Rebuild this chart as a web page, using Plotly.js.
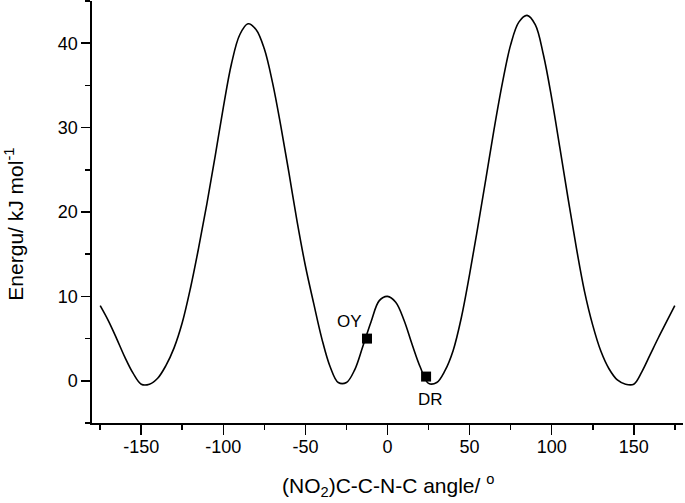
<!DOCTYPE html>
<html>
<head>
<meta charset="utf-8">
<script src="https://cdn.plot.ly/plotly-3.0.1.min.js"></script>
<style>html,body{margin:0;padding:0;background:#fff;}#chart{width:685px;height:503px;}</style>
</head>
<body>
<div id="chart"></div>
<script>
// Torsion angle (degrees) and relative energy (kJ/mol)
const angle = [-175,-170,-165,-160,-155,-150,-145,-140,-135,-130,-125,-120,-115,-110,-105,-100,-95,-90,-85,-80,-75,-70,-65,-60,-55,-50,-45,-40,-35,-30,-25,-20,-15,-10,-5,0,5,10,15,20,25,30,35,40,45,50,55,60,65,70,75,80,85,90,95,100,105,110,115,120,125,130,135,140,145,150,155,160,165,170,175];
const energy = [8.9,7.1,5.0,2.8,0.9,-0.4,-0.4,0.3,1.8,3.9,6.9,11.0,15.8,21.0,26.6,32.4,37.6,41.0,42.3,41.6,39.3,35.3,30.2,24.6,18.8,13.6,9.2,5.0,1.7,-0.2,-0.2,1.3,4.1,7.0,9.5,10.0,9.3,7.2,4.3,1.6,-0.3,-0.2,1.2,3.6,7.5,12.6,18.2,24.0,29.9,35.3,39.8,42.5,43.3,42.2,38.6,33.5,27.6,21.6,15.8,10.6,6.6,3.5,1.4,0.1,-0.4,-0.4,1.1,3.1,5.1,7.0,8.9];

// Labelled conformers
const confName = ["OY","DR"];
const confAngle = [-12.5, 23.5];
const confEnergy = [5.0, 0.5];
const labelAngle = [-23, 26];
const labelEnergy = [7.0, -2.2];

// Tick labels (hyphen minus as in the original)
const xTickVals = [-150,-100,-50,0,50,100,150];
const xTickText = ["-150","-100","-50","0","50","100","150"];
const yTickVals = [0,10,20,30,40];
const yTickText = ["0","10","20","30","40"];

// Axis titles
const xTitle = '(NO<sub>2</sub>)C-C-N-C angle/ <sup>o</sup>';
const yTitle = 'Energu/ kJ mol<sup>-1</sup>';

const curve = {
  x: angle, y: energy, type: 'scatter', mode: 'lines',
  line: {color: '#000', width: 1.6, shape: 'spline', smoothing: 1},
  hoverinfo: 'skip'
};
const pts = {
  x: confAngle, y: confEnergy, type: 'scatter', mode: 'markers',
  marker: {symbol: 'square', size: 10, color: '#000'},
  text: confName
};

const font = {family: 'Liberation Sans, Arial, sans-serif', color: '#000'};

const annos = confName.map((n, i) => ({
  x: labelAngle[i], y: labelEnergy[i], xref: 'x', yref: 'y',
  text: n, showarrow: false, font: Object.assign({size: 17}, font)
}));
annos.push({
  x: 0.5, y: -0.149, xref: 'paper', yref: 'paper', xanchor: 'center', yanchor: 'middle',
  text: xTitle, showarrow: false, font: Object.assign({size: 21}, font)
});
annos.push({
  x: 0, y: 0.47, xref: 'paper', yref: 'paper', xanchor: 'center', yanchor: 'middle',
  xshift: -78, textangle: -90,
  text: yTitle, showarrow: false, font: Object.assign({size: 21}, font)
});

const layout = {
  width: 685, height: 503,
  margin: {l: 92, r: 2, t: 1, b: 80},
  paper_bgcolor: '#fff', plot_bgcolor: '#fff',
  showlegend: false,
  font: Object.assign({size: 18}, font),
  xaxis: {
    range: [-180, 180], tickmode: 'array', tickvals: xTickVals, ticktext: xTickText,
    showgrid: false, zeroline: false,
    showline: true, linecolor: '#000', linewidth: 1.6,
    ticks: 'outside', ticklen: 10, tickwidth: 1.6, tickcolor: '#000',
    minor: {tickmode: 'linear', tick0: 0, dtick: 25, ticks: 'outside', ticklen: 5, tickwidth: 1.6, tickcolor: '#000'},
    tickfont: Object.assign({size: 18}, font),
    ticklabelstandoff: -3,
    automargin: false
  },
  yaxis: {
    range: [-5, 45], tickmode: 'array', tickvals: yTickVals, ticktext: yTickText,
    showgrid: false, zeroline: false,
    showline: true, linecolor: '#000', linewidth: 1.6,
    ticks: 'outside', ticklen: 9, tickwidth: 1.6, tickcolor: '#000',
    minor: {tickmode: 'linear', tick0: 0, dtick: 5, ticks: 'outside', ticklen: 5, tickwidth: 1.6, tickcolor: '#000'},
    tickfont: Object.assign({size: 18}, font),
    automargin: false
  },
  annotations: annos
};

Plotly.newPlot('chart', [curve, pts], layout, {displayModeBar: false, staticPlot: true});
</script>
</body>
</html>
